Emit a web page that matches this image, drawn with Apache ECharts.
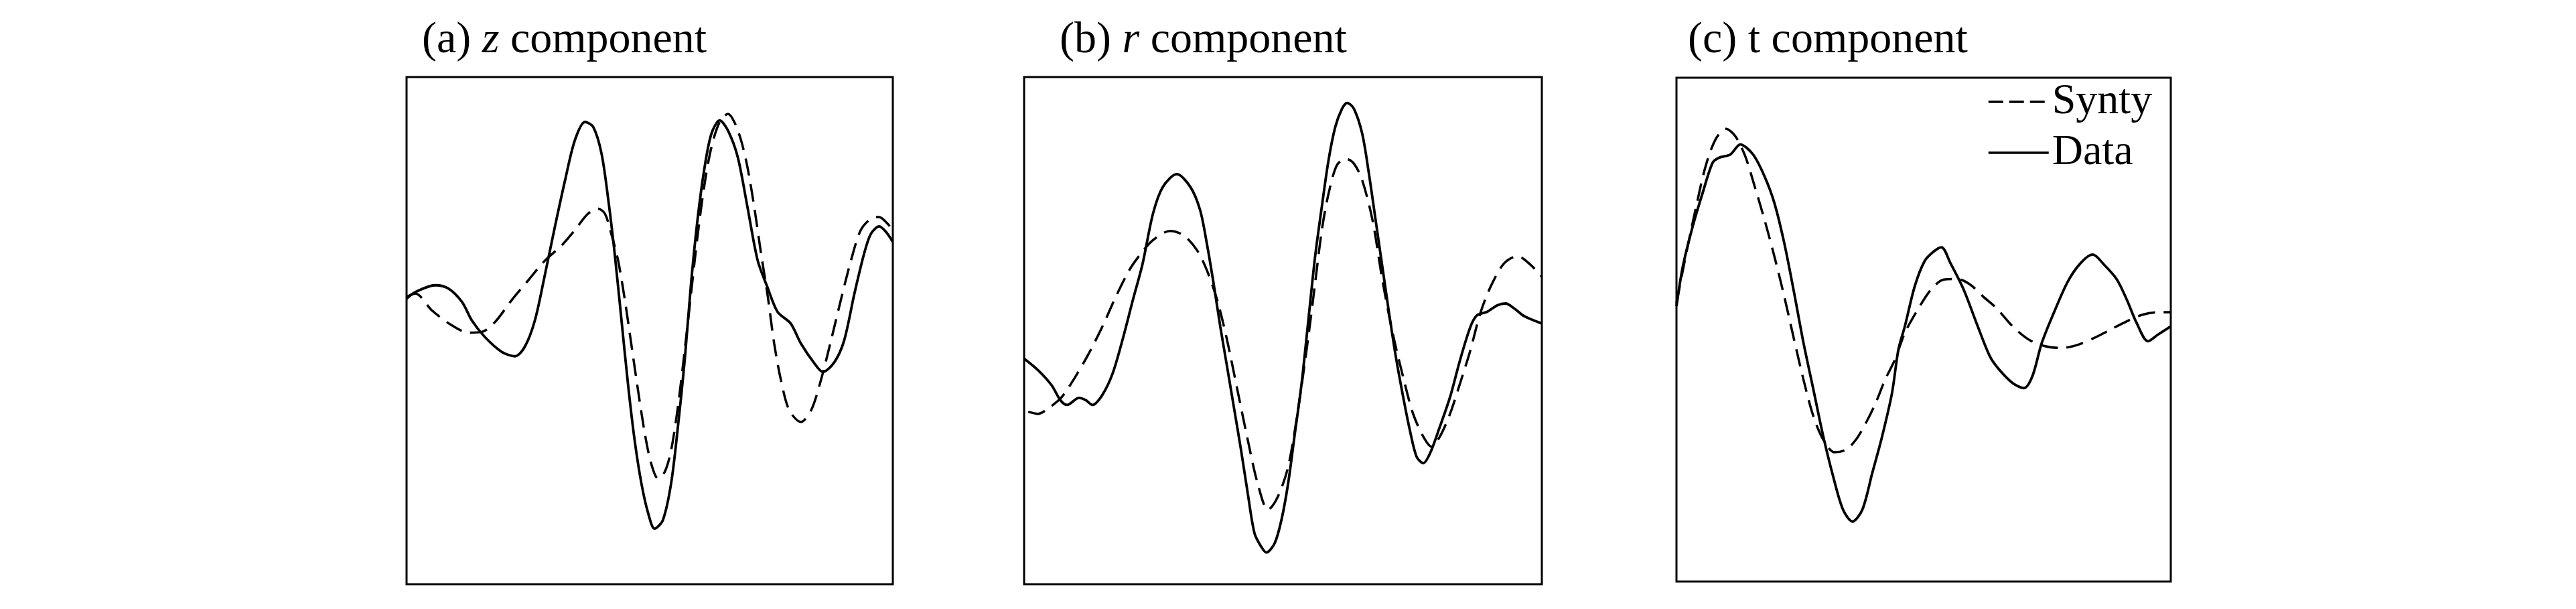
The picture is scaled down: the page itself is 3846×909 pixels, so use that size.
<!DOCTYPE html>
<html>
<head>
<meta charset="utf-8">
<script src="https://cdn.jsdelivr.net/npm/echarts@6/dist/echarts.min.js"></script>
<style>
html,body{margin:0;padding:0;background:#fff;}
#chart{width:3846px;height:909px;}
</style>
</head>
<body>
<div id="chart"></div>
<script>
// Panel titles
const panelTitles = ['(a) {i|z} component', '(b) {i|r} component', '(c) t component'];
const legendNames = ['Synty', 'Data'];

// (a) z component : [time (0-100 % of window), amplitude]
const zData = [[0,12.6],[1.8,15.2],[5.9,17.9],[8.6,16.6],[11.4,11.3],[13.4,4.1],[16.1,-2.5],[19.6,-8.4],[22.3,-10.1],[24.3,-6.4],[26.4,4.1],[28.5,22.5],[30.5,40.9],[32.6,59.3],[34.6,75.0],[36.7,82.3],[38.4,80.3],[40.1,69.8],[41.5,51.4],[42.8,30.4],[44.2,4.1],[45.6,-22.2],[46.9,-43.2],[48.3,-60.3],[49.7,-72.1],[51.0,-78.1],[52.7,-74.8],[54.4,-60.3],[55.8,-38.0],[57.2,-11.7],[58.5,18.5],[59.9,44.8],[61.3,64.5],[62.7,77.7],[64.4,82.9],[66.1,78.9],[68.1,68.5],[70.1,48.8],[72.2,27.7],[74.2,17.2],[76.3,7.4],[79.0,2.8],[81.1,-5.1],[83.9,-13.0],[85.6,-16.3],[88.0,-12.4],[90.0,-3.8],[92.1,14.6],[94.1,30.4],[95.5,38.2],[97.2,41.1],[98.6,38.9],[100,35.0]];
const zSynty = [[0,13.3],[1.8,14.6],[5.2,8.0],[9.3,2.1],[12.7,-0.8],[15.5,-0.5],[18.2,3.4],[21.6,12.0],[25.0,19.8],[28.5,27.7],[31.9,33.6],[34.6,39.6],[37.3,46.1],[39.4,48.1],[40.8,46.1],[42.1,38.2],[43.5,27.7],[44.9,12.0],[46.2,-5.1],[47.6,-23.5],[49.0,-40.6],[50.3,-52.4],[51.7,-58.3],[53.1,-55.7],[54.4,-47.2],[55.8,-30.1],[57.2,-7.8],[58.5,14.6],[59.9,38.2],[61.3,58.0],[62.7,72.4],[64.4,82.3],[66.1,85.5],[67.4,82.3],[68.8,75.0],[70.1,64.5],[71.5,48.8],[72.9,30.4],[74.3,13.3],[75.6,-5.1],[77.0,-19.6],[78.7,-31.4],[81.1,-36.0],[83.2,-31.4],[85.2,-19.6],[87.3,-3.8],[89.3,12.0],[91.4,27.7],[93.4,39.6],[95.5,44.2],[97.2,44.8],[98.9,42.2],[100,39.6]];

// (b) r component
const rData = [[0,-11.0],[2.7,-15.6],[5.3,-21.5],[7.0,-27.4],[8.3,-29.3],[10.6,-26.5],[11.9,-27.4],[13.2,-29.3],[15.1,-25.4],[17.1,-16.9],[19.0,-3.7],[21.0,12.0],[22.9,26.5],[24.9,46.2],[26.8,56.7],[29.5,61.7],[32.1,56.7],[34.0,47.5],[35.3,34.3],[36.6,18.6],[37.9,1.5],[39.2,-14.2],[40.5,-30.0],[41.9,-47.1],[43.2,-64.2],[44.5,-79.9],[45.8,-85.2],[46.8,-87.5],[48.4,-83.8],[49.7,-74.7],[51.0,-60.2],[52.3,-40.5],[53.6,-20.8],[54.9,4.1],[56.2,29.1],[57.5,48.8],[58.8,67.2],[60.1,80.3],[61.4,87.5],[62.4,89.8],[63.7,87.5],[65.3,77.7],[66.6,61.9],[67.9,43.5],[69.2,25.1],[70.5,6.8],[71.8,-10.3],[73.2,-26.0],[74.5,-39.2],[75.8,-49.7],[77.1,-52.3],[78.4,-48.4],[80.3,-37.9],[82.3,-26.0],[84.2,-11.6],[86.2,1.5],[87.5,6.1],[89.4,7.4],[91.4,10.0],[93.0,10.7],[94.7,8.7],[96.6,5.7],[100,2.8]];
const rSynty = [[0.8,-32.0],[2.7,-32.8],[4.7,-30.6],[7.3,-26.1],[9.9,-18.2],[12.5,-9.0],[15.1,1.5],[17.7,13.3],[20.3,23.8],[22.3,29.7],[24.9,35.7],[28.2,39.3],[30.8,37.6],[33.4,31.7],[35.3,23.8],[37.3,12.0],[39.2,-3.7],[41.2,-23.4],[43.2,-43.1],[45.1,-60.2],[47.1,-70.7],[49.0,-65.5],[51.0,-53.7],[52.9,-31.3],[54.9,-2.4],[56.2,18.6],[57.5,39.6],[58.8,54.0],[60.4,65.2],[62.1,67.8],[63.7,65.9],[65.3,59.3],[67.3,43.5],[69.2,19.9],[71.2,-1.1],[73.2,-18.2],[75.1,-32.6],[77.1,-41.8],[78.7,-45.8],[80.3,-41.8],[82.3,-32.6],[84.2,-20.8],[86.2,-7.7],[88.1,6.8],[90.1,17.3],[92.7,26.5],[95.3,29.4],[97.9,25.8],[100,21.2]];

// (c) t component
const tData = [[0,9.3],[1.3,25.2],[3.3,41.1],[5.3,54.3],[7.3,66.2],[8.6,68.2],[10.9,69.5],[12.9,73.5],[15.5,69.5],[17.8,60.9],[19.8,50.3],[21.8,34.4],[23.8,14.6],[25.7,-5.3],[27.7,-23.8],[29.7,-42.4],[31.7,-58.3],[33.7,-71.5],[35.6,-76.2],[37.6,-71.5],[39.6,-57.0],[41.6,-42.4],[43.6,-25.2],[44.9,-7.9],[46.2,1.3],[48.2,17.2],[50.2,27.2],[52.1,31.1],[53.6,32.7],[55.4,26.5],[58.1,15.9],[60.7,2.6],[63.4,-10.6],[65.3,-15.9],[68.0,-21.2],[70.3,-23.2],[72.0,-18.5],[73.9,-5.3],[76.6,7.9],[79.2,19.2],[81.8,26.5],[84.2,29.8],[86.5,25.8],[89.1,19.9],[91.1,11.9],[93.1,2.6],[95.4,-4.6],[97.4,-2.0],[100,1.3]];
const tSynty = [[0,10.6],[2.0,30.5],[4.0,49.0],[5.9,64.9],[7.9,75.5],[10.0,79.7],[11.9,76.8],[13.9,68.9],[15.8,57.0],[17.8,43.7],[19.8,29.1],[21.8,13.2],[23.8,-4.0],[25.7,-19.9],[27.7,-34.4],[29.7,-43.7],[32.0,-48.7],[34.3,-47.7],[36.3,-43.7],[38.3,-37.1],[40.3,-29.1],[42.2,-19.9],[44.2,-11.9],[46.2,-1.3],[48.8,7.9],[51.5,15.9],[54.1,19.9],[56.8,20.1],[59.4,17.9],[62.0,13.2],[64.7,8.6],[68.0,1.3],[71.3,-4.0],[74.6,-6.6],[77.9,-7.3],[81.2,-6.0],[84.5,-3.3],[87.8,0],[91.1,3.3],[94.4,6.0],[97.7,6.9],[100,6.9]];

const FONT = '"Liberation Serif", "Times New Roman", serif';
const grids = [
  {left: 607, top: 115, width: 726, height: 757},
  {left: 1529, top: 115, width: 773, height: 757},
  {left: 2503, top: 116, width: 738, height: 752}
];
const titleLeft = [630, 1582, 2520];
const datasets = [[zSynty, zData], [rSynty, rData], [tSynty, tData]];

const option = {
  backgroundColor: '#fff',
  animation: false,
  title: panelTitles.map((t, i) => ({
    text: t,
    left: titleLeft[i],
    top: 28,
    padding: 0,
    textStyle: {
      fontFamily: FONT, fontSize: 66, fontWeight: 'normal', color: '#000',
      rich: {i: {fontFamily: FONT, fontSize: 66, fontStyle: 'italic', color: '#000'}}
    }
  })),
  legend: {
    orient: 'vertical',
    left: 2967,
    top: 120,
    padding: 0,
    itemGap: 12,
    itemWidth: 90,
    itemHeight: 20,
    itemStyle: {opacity: 0},
    data: [
      {name: 'Synty', itemStyle: {opacity: 0}, lineStyle: {type: [22, 9], width: 3.5, color: '#000'}},
      {name: 'Data', itemStyle: {opacity: 0}, lineStyle: {type: 'solid', width: 3.5, color: '#000'}}
    ],
    textStyle: {fontFamily: FONT, fontSize: 64, color: '#000'}
  },
  grid: grids.map(g => Object.assign({show: true, borderColor: '#000', borderWidth: 3, backgroundColor: 'transparent'}, g)),
  xAxis: grids.map((g, i) => ({type: 'value', gridIndex: i, min: 0, max: 100, show: false})),
  yAxis: grids.map((g, i) => ({type: 'value', gridIndex: i, min: -100, max: 100, show: false})),
  series: []
};

datasets.forEach((pair, i) => {
  option.series.push({
    name: legendNames[0], type: 'line', xAxisIndex: i, yAxisIndex: i,
    data: pair[0], symbol: 'none', smooth: 0.3,
    lineStyle: {color: '#000', width: 3.5, type: [26, 13]},
    itemStyle: {color: '#000'}
  });
  option.series.push({
    name: legendNames[1], type: 'line', xAxisIndex: i, yAxisIndex: i,
    data: pair[1], symbol: 'none', smooth: 0.3,
    lineStyle: {color: '#000', width: 3.8, type: 'solid'},
    itemStyle: {color: '#000'}
  });
});

const chart = echarts.init(document.getElementById('chart'), null, {renderer: 'canvas'});
chart.setOption(option);
</script>
</body>
</html>
